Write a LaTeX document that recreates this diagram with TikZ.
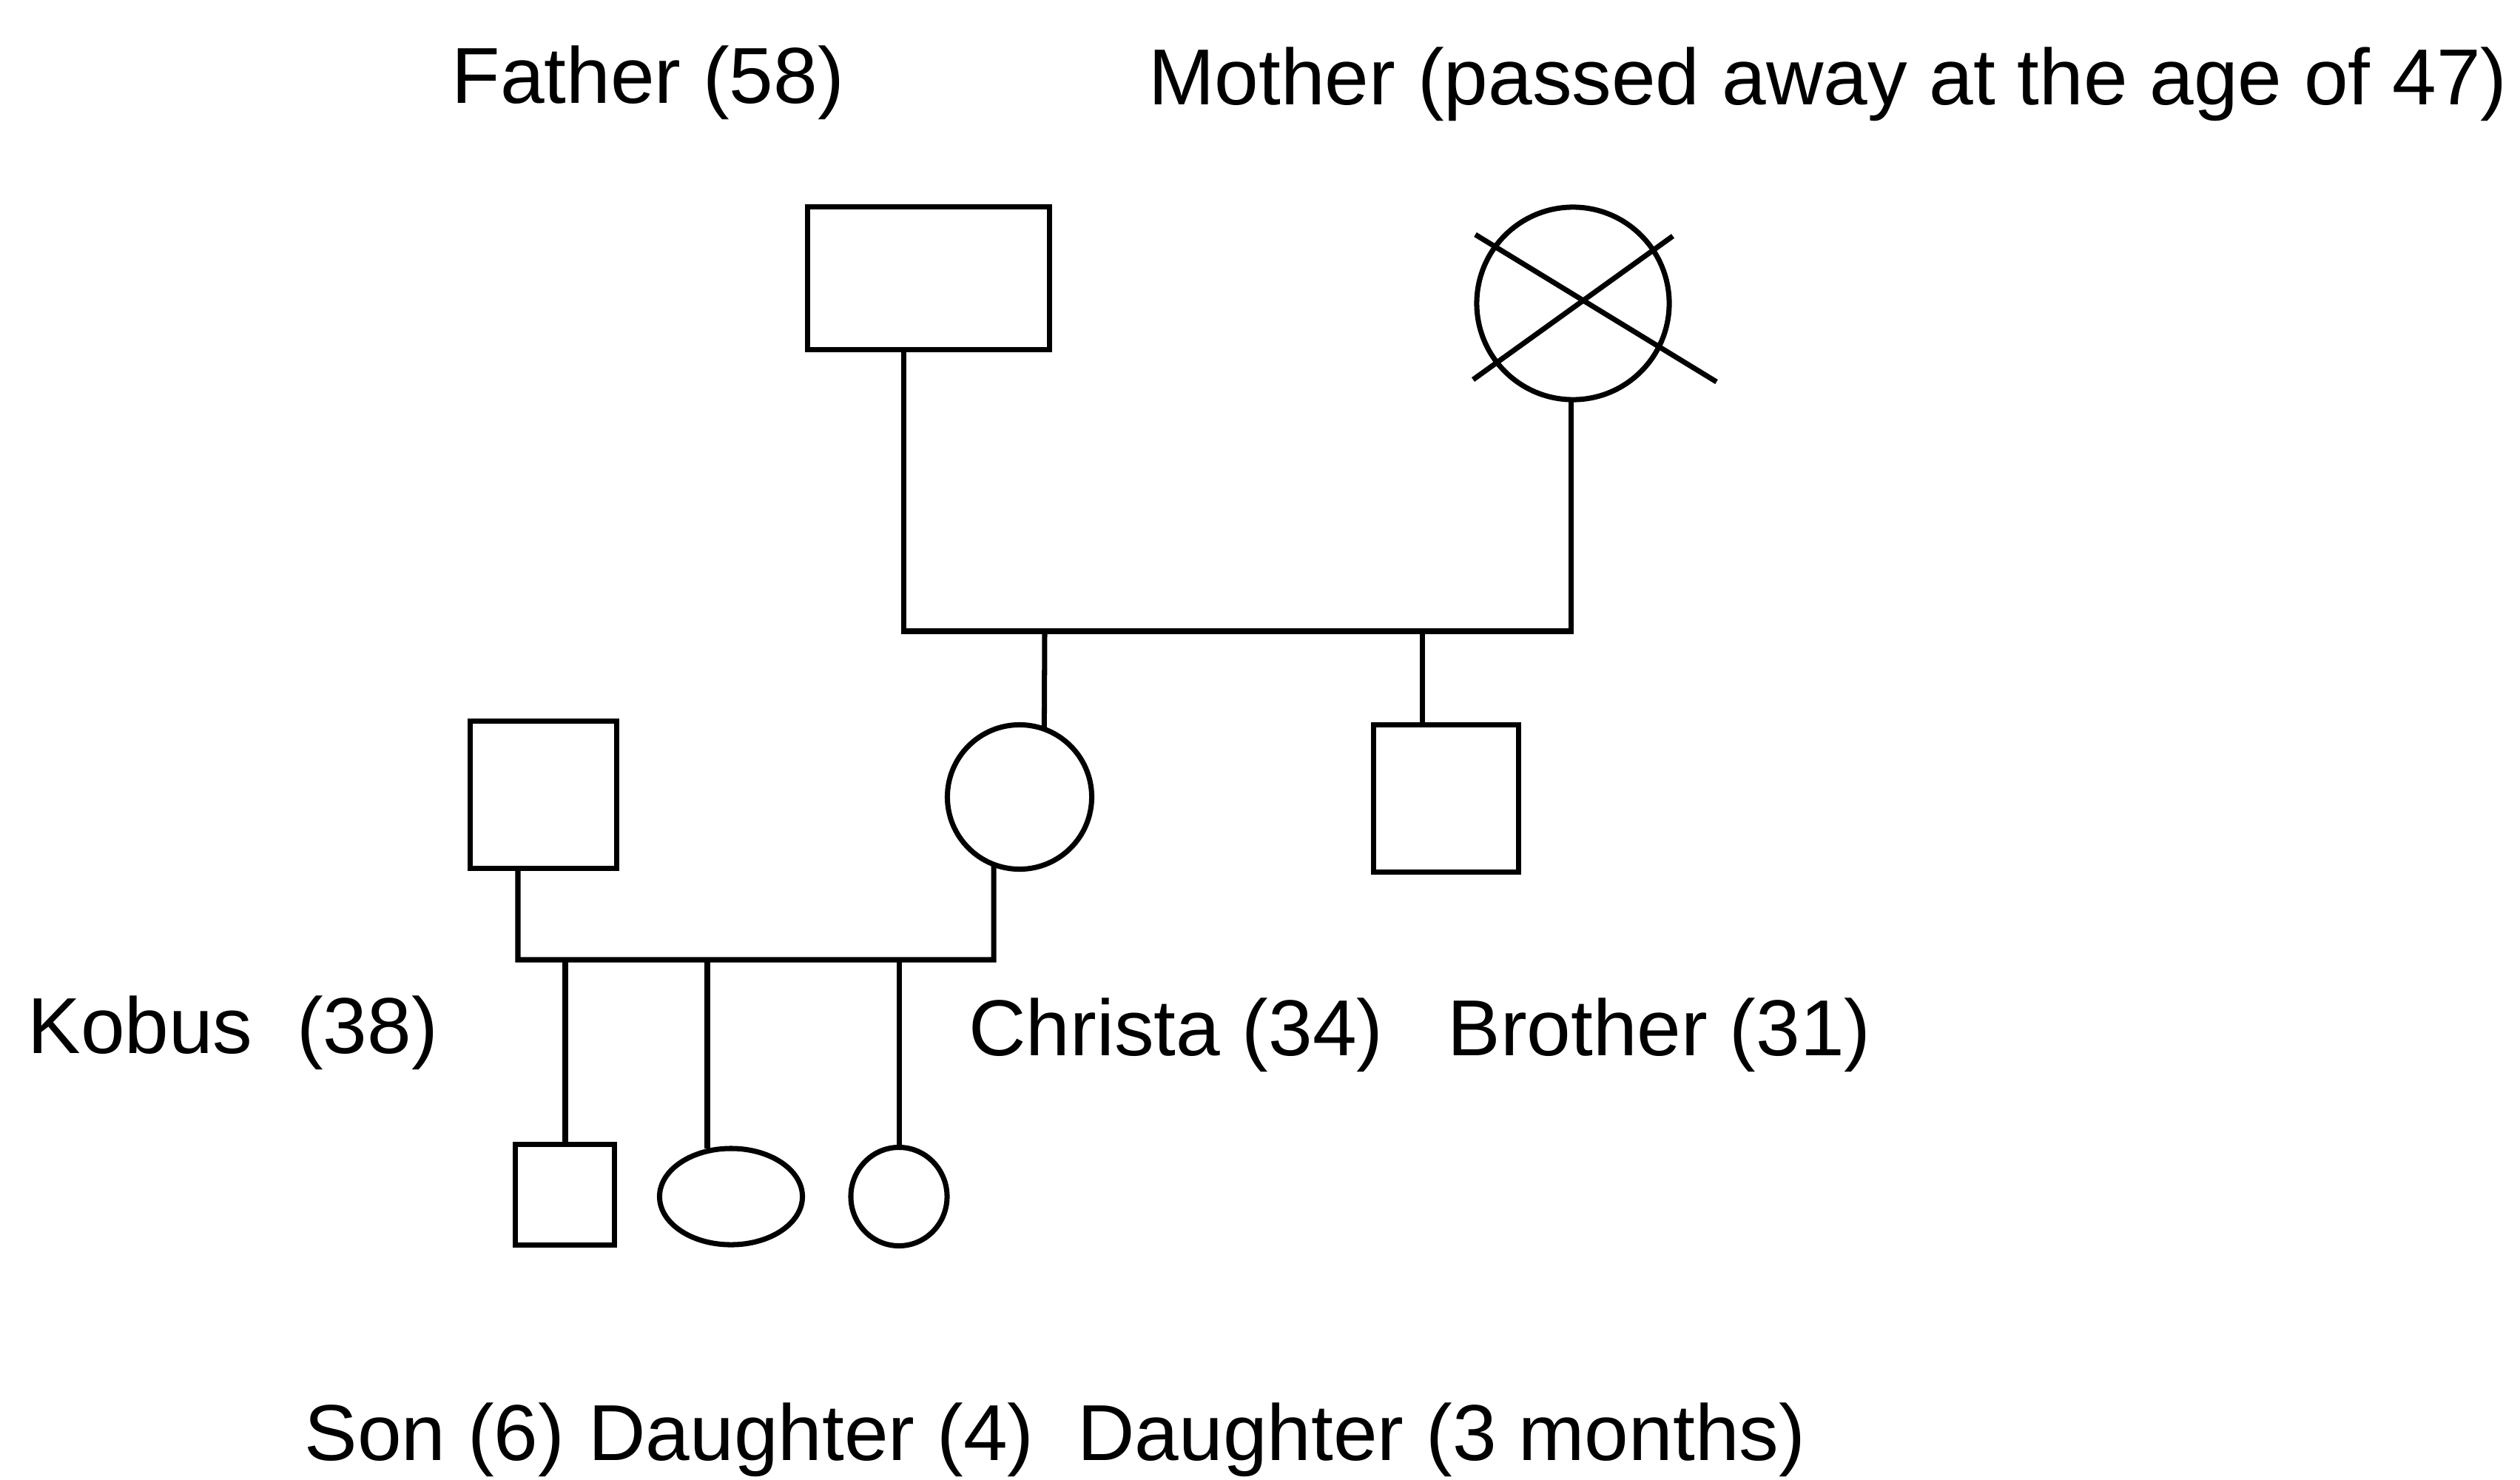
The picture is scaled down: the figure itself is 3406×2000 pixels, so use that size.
\documentclass[tikz,border=0pt]{standalone}
\usepackage{fontspec}
\setmainfont{Liberation Sans}
\usetikzlibrary{calc,shapes.geometric}
\begin{document}
\begin{tikzpicture}[x=0.01cm,y=-0.01cm,
  line width=2pt,
  male/.style={draw,rectangle,inner sep=0pt,outer sep=0pt},
  female/.style={draw,ellipse,inner sep=0pt,outer sep=0pt},
  lbl/.style={anchor=base west,inner sep=0pt,font=\fontsize{30.5}{36}\selectfont}]
\useasboundingbox (0,0) rectangle (3406,2000);

% first generation
\node[male,minimum width=3.26cm,minimum height=1.93cm] (father) at (1255,376) {};
\node[female,minimum width=2.6cm,minimum height=2.6cm] (mother) at (2126,410) {};
\draw ($(mother.center)+(-132,-93)$) -- ($(mother.center)+(194,106)$);
\draw ($(mother.center)+(135,-91)$) -- ($(mother.center)+(-135,103)$);

% second generation
\node[male,minimum width=1.97cm,minimum height=1.98cm] (kobus) at (734.5,1074) {};
\node[female,minimum width=1.95cm,minimum height=1.95cm] (christa) at (1378,1077) {};
\node[male,minimum width=1.95cm,minimum height=1.98cm] (brother) at (1954.5,1079) {};

% third generation
\node[male,minimum width=1.33cm,minimum height=1.35cm] (son) at (763.5,1614.5) {};
\node[female,minimum width=1.93cm,minimum height=1.30cm] (dau4) at (988,1617) {};
\node[female,minimum width=1.30cm,minimum height=1.33cm] (dau3) at (1215,1617) {};

% junction points on the couple lines
\coordinate (pL) at (1221,853);
\coordinate (pR) at (2123,853);
\coordinate (sibC) at (1412,853);
\coordinate (sibB) at (1922,853);
\coordinate (cL) at (700,1297);
\coordinate (cR) at (1343,1297);
\coordinate (kidS) at (764,1297);
\coordinate (kidD4) at (956,1297);
\coordinate (kidD3) at (1215,1297);

% parents' couple line and descent
\draw (father.south -| pL) -- (pL) -- (pR) -- (mother.south -| pR);
\draw (sibC) -- (christa.70);
\draw (sibB) -- (sibB |- brother.north);

% Kobus and Christa couple line and descent
\draw (kobus.south -| cL) -- (cL) -- (cR) -- (christa.-111);
\draw (kidS) -- (kidS |- son.north);
\draw (kidD4) -- (kidD4 |- dau4.north);
\draw (kidD3) -- (dau3.north);

% labels
\node[lbl] (tFather) at (607,140) {Father (58)};
\node[lbl] (tMother) at (1549,142) {Mother (passed away at the age of 47)};
\node[lbl] (tKobus) at (34,1423) {Kobus\ \ (38)};
\node[lbl] (tChrista) at (1306,1426) {Christa (34)};
\node[lbl] (tBrother) at (1953,1426) {Brother (31)};
\node[lbl] (tSon) at (408,1973) {Son (6)};
\node[lbl] (tDau4) at (792,1973) {Daughter (4)};
\node[lbl] (tDau3) at (1453,1973) {Daughter (3 months)};
\end{tikzpicture}
\end{document}
